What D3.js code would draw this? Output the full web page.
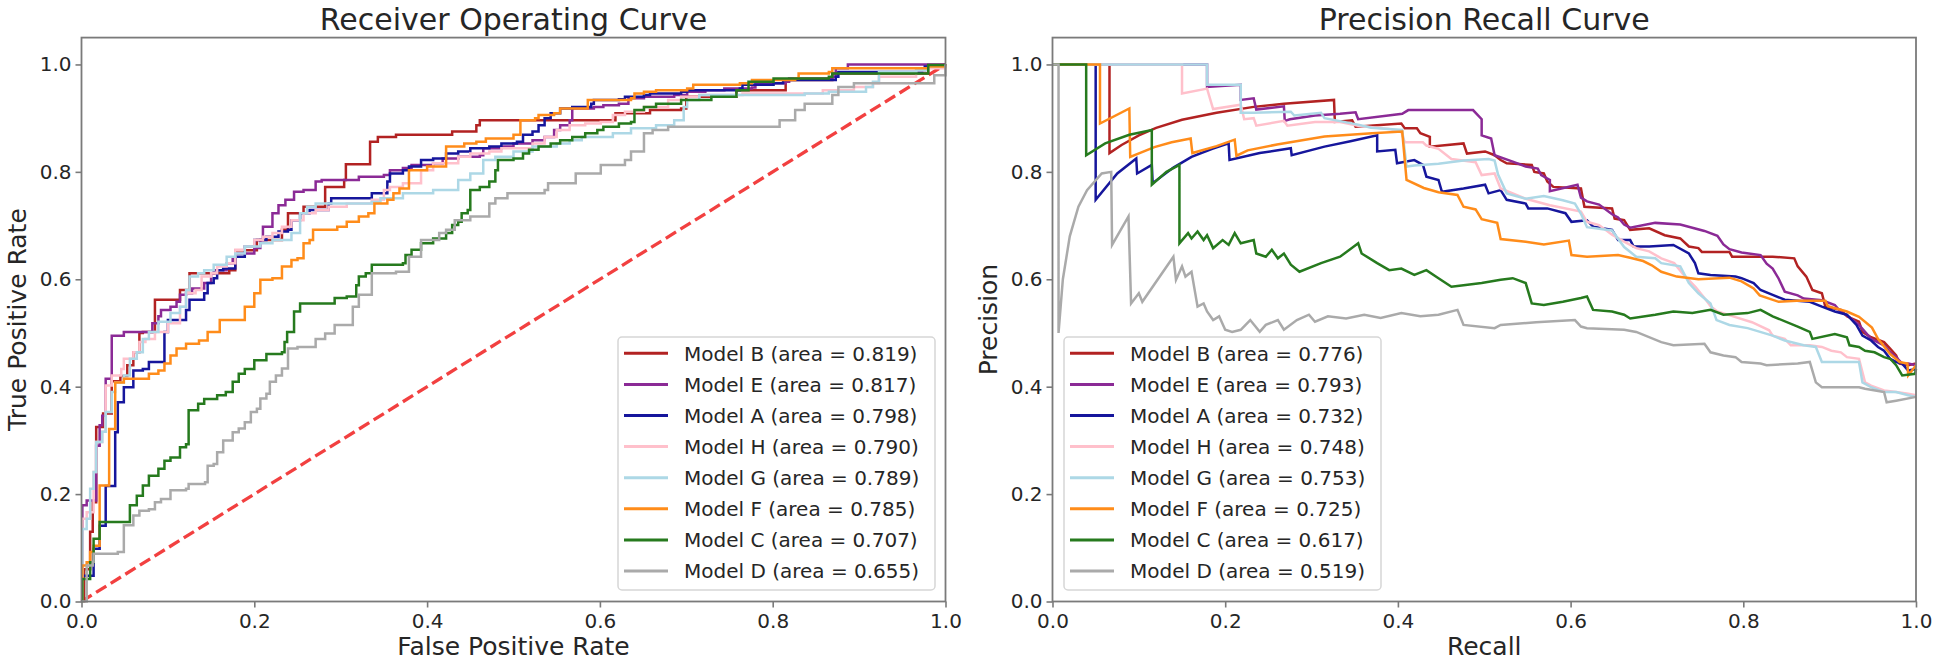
<!DOCTYPE html>
<html>
<head>
<meta charset="utf-8">
<script src="https://cdn.jsdelivr.net/npm/d3@7"></script>
<style>
  body { margin: 0; background: #fff; }
  text { font-family: "DejaVu Sans", sans-serif; fill: #262626; }
</style>
</head>
<body>
<svg id="chart" width="1938" height="664"></svg>
<script>
// legend order = draw order
const models = ["Model B", "Model E", "Model A", "Model H", "Model G", "Model F", "Model C", "Model D"];
const colors = ["#b22222", "#8b2a96", "#16169c", "#ffc0cb", "#add8e6", "#ff8c1a", "#267a1e", "#aaaaaa"];
const rocAuc = [0.819, 0.817, 0.798, 0.790, 0.789, 0.785, 0.707, 0.655];
const prAuc = [0.776, 0.793, 0.732, 0.748, 0.753, 0.725, 0.617, 0.519];
const ticks = [0, 0.2, 0.4, 0.6, 0.8, 1.0];

// ROC points [fpr, tpr]
const rocB = [[0,0],[0.003,0.06],[0.01,0.06],[0.01,0.13],[0.013,0.185],[0.017,0.325],[0.025,0.35],[0.035,0.41],[0.045,0.42],[0.053,0.44],[0.06,0.464],[0.067,0.5],[0.071,0.502],[0.085,0.562],[0.114,0.58],[0.125,0.611],[0.171,0.617],[0.178,0.654],[0.203,0.673],[0.232,0.692],[0.239,0.723],[0.257,0.735],[0.282,0.741],[0.282,0.772],[0.304,0.785],[0.306,0.814],[0.334,0.814],[0.334,0.856],[0.343,0.865],[0.364,0.869],[0.429,0.875],[0.457,0.887],[0.461,0.896],[0.604,0.896],[0.618,0.909],[0.658,0.915],[0.694,0.918],[0.7,0.94],[0.758,0.952],[0.815,0.971],[0.869,0.983],[0.98,0.999],[1,1]];
const rocE = [[0,0],[0.001,0.179],[0.006,0.188],[0.017,0.29],[0.021,0.328],[0.024,0.346],[0.028,0.415],[0.035,0.483],[0.035,0.495],[0.049,0.502],[0.071,0.502],[0.082,0.518],[0.089,0.531],[0.092,0.543],[0.103,0.549],[0.11,0.558],[0.114,0.571],[0.121,0.574],[0.128,0.583],[0.142,0.593],[0.15,0.611],[0.153,0.617],[0.168,0.63],[0.175,0.639],[0.178,0.648],[0.2,0.658],[0.207,0.673],[0.21,0.698],[0.221,0.723],[0.228,0.738],[0.236,0.748],[0.246,0.763],[0.257,0.766],[0.271,0.782],[0.278,0.785],[0.321,0.791],[0.35,0.794],[0.357,0.803],[0.372,0.807],[0.382,0.813],[0.407,0.816],[0.418,0.825],[0.436,0.828],[0.461,0.831],[0.465,0.844],[0.486,0.847],[0.5,0.853],[0.522,0.859],[0.536,0.865],[0.547,0.878],[0.554,0.887],[0.565,0.896],[0.568,0.918],[0.593,0.921],[0.604,0.924],[0.622,0.927],[0.633,0.937],[0.651,0.94],[0.686,0.943],[0.701,0.949],[0.722,0.952],[0.744,0.955],[0.776,0.957],[0.78,0.965],[0.815,0.968],[0.819,0.974],[0.869,0.977],[0.873,0.993],[0.887,1],[1,1]];
const rocA = [[0,0],[0.001,0.048],[0.014,0.048],[0.014,0.098],[0.021,0.116],[0.021,0.141],[0.028,0.203],[0.028,0.215],[0.039,0.315],[0.042,0.371],[0.049,0.374],[0.049,0.399],[0.06,0.399],[0.06,0.43],[0.071,0.433],[0.078,0.446],[0.096,0.446],[0.096,0.502],[0.1,0.524],[0.121,0.543],[0.125,0.562],[0.142,0.574],[0.146,0.593],[0.153,0.602],[0.157,0.617],[0.164,0.62],[0.178,0.642],[0.189,0.661],[0.2,0.673],[0.214,0.679],[0.228,0.689],[0.239,0.692],[0.243,0.71],[0.253,0.723],[0.264,0.729],[0.286,0.741],[0.289,0.751],[0.332,0.751],[0.336,0.76],[0.354,0.782],[0.357,0.797],[0.372,0.803],[0.379,0.81],[0.393,0.822],[0.407,0.825],[0.422,0.834],[0.436,0.838],[0.45,0.844],[0.472,0.847],[0.486,0.853],[0.504,0.856],[0.511,0.869],[0.522,0.875],[0.529,0.887],[0.536,0.9],[0.543,0.909],[0.554,0.918],[0.568,0.921],[0.59,0.927],[0.593,0.934],[0.622,0.935],[0.629,0.94],[0.651,0.943],[0.658,0.946],[0.694,0.949],[0.701,0.952],[0.762,0.955],[0.765,0.962],[0.801,0.965],[0.812,0.971],[0.873,0.977],[0.876,0.986],[0.973,0.989],[0.976,0.996],[1,1]];
const rocH = [[0,0],[0.001,0.154],[0.006,0.166],[0.014,0.241],[0.017,0.297],[0.024,0.316],[0.028,0.402],[0.035,0.421],[0.046,0.433],[0.049,0.452],[0.06,0.464],[0.067,0.483],[0.074,0.489],[0.085,0.502],[0.1,0.518],[0.114,0.549],[0.121,0.574],[0.132,0.58],[0.139,0.605],[0.15,0.611],[0.157,0.624],[0.168,0.63],[0.178,0.655],[0.189,0.661],[0.2,0.673],[0.21,0.679],[0.221,0.686],[0.232,0.698],[0.243,0.71],[0.257,0.723],[0.271,0.729],[0.286,0.735],[0.307,0.741],[0.336,0.748],[0.35,0.766],[0.357,0.772],[0.372,0.779],[0.393,0.803],[0.407,0.816],[0.436,0.828],[0.45,0.834],[0.472,0.838],[0.486,0.844],[0.508,0.844],[0.522,0.853],[0.536,0.865],[0.55,0.878],[0.565,0.887],[0.583,0.89],[0.601,0.893],[0.615,0.906],[0.629,0.912],[0.651,0.921],[0.679,0.934],[0.694,0.94],[0.715,0.943],[0.765,0.946],[0.837,0.946],[0.858,0.952],[0.894,0.958],[0.916,0.965],[0.923,0.977],[0.966,0.989],[0.98,0.993],[1,1]];
const rocG = [[0,0],[0.001,0.135],[0.006,0.154],[0.01,0.21],[0.014,0.241],[0.017,0.247],[0.017,0.297],[0.024,0.316],[0.028,0.353],[0.035,0.39],[0.039,0.408],[0.049,0.421],[0.056,0.452],[0.064,0.464],[0.071,0.489],[0.078,0.502],[0.089,0.521],[0.103,0.537],[0.114,0.549],[0.121,0.58],[0.125,0.605],[0.135,0.611],[0.142,0.617],[0.153,0.627],[0.168,0.642],[0.178,0.648],[0.189,0.661],[0.207,0.667],[0.221,0.673],[0.243,0.686],[0.253,0.723],[0.261,0.735],[0.271,0.741],[0.336,0.744],[0.346,0.751],[0.372,0.76],[0.407,0.766],[0.436,0.785],[0.45,0.797],[0.465,0.822],[0.479,0.828],[0.5,0.838],[0.522,0.847],[0.55,0.853],[0.565,0.859],[0.579,0.865],[0.615,0.872],[0.636,0.881],[0.665,0.887],[0.686,0.896],[0.697,0.921],[0.701,0.934],[0.715,0.943],[0.837,0.946],[0.865,0.949],[0.908,0.958],[0.916,0.968],[0.923,0.986],[0.966,0.989],[0.98,0.996],[1,1]];
const rocF = [[0,0],[0.001,0.067],[0.006,0.073],[0.01,0.092],[0.014,0.104],[0.021,0.129],[0.021,0.216],[0.028,0.216],[0.032,0.321],[0.039,0.321],[0.039,0.408],[0.049,0.415],[0.071,0.415],[0.078,0.424],[0.089,0.43],[0.096,0.443],[0.103,0.458],[0.11,0.471],[0.121,0.48],[0.136,0.486],[0.146,0.502],[0.16,0.524],[0.178,0.524],[0.189,0.549],[0.2,0.574],[0.207,0.599],[0.221,0.602],[0.232,0.624],[0.243,0.636],[0.25,0.639],[0.257,0.667],[0.264,0.673],[0.268,0.692],[0.296,0.698],[0.307,0.707],[0.321,0.717],[0.332,0.723],[0.339,0.741],[0.354,0.748],[0.361,0.76],[0.368,0.769],[0.379,0.779],[0.379,0.803],[0.4,0.81],[0.422,0.822],[0.422,0.847],[0.443,0.853],[0.457,0.856],[0.468,0.862],[0.5,0.869],[0.508,0.896],[0.525,0.9],[0.529,0.906],[0.547,0.909],[0.554,0.918],[0.586,0.921],[0.586,0.934],[0.636,0.937],[0.64,0.946],[0.651,0.949],[0.665,0.952],[0.701,0.955],[0.708,0.962],[0.762,0.965],[0.776,0.971],[0.826,0.974],[0.83,0.983],[0.865,0.986],[0.869,0.993],[0.98,0.996],[1,1]];
const rocC = [[0,0],[0.001,0.042],[0.006,0.042],[0.01,0.073],[0.014,0.117],[0.021,0.123],[0.021,0.148],[0.053,0.148],[0.056,0.179],[0.064,0.197],[0.071,0.216],[0.078,0.234],[0.089,0.247],[0.096,0.262],[0.103,0.268],[0.114,0.287],[0.121,0.293],[0.124,0.356],[0.135,0.368],[0.142,0.377],[0.157,0.384],[0.167,0.39],[0.175,0.409],[0.182,0.424],[0.189,0.433],[0.2,0.449],[0.214,0.461],[0.232,0.464],[0.235,0.483],[0.238,0.502],[0.246,0.54],[0.253,0.555],[0.282,0.555],[0.293,0.565],[0.307,0.568],[0.318,0.589],[0.321,0.605],[0.329,0.611],[0.336,0.627],[0.372,0.63],[0.375,0.645],[0.382,0.655],[0.393,0.667],[0.404,0.667],[0.407,0.676],[0.422,0.686],[0.429,0.701],[0.436,0.707],[0.44,0.723],[0.447,0.729],[0.45,0.766],[0.461,0.772],[0.472,0.782],[0.479,0.803],[0.482,0.822],[0.5,0.825],[0.511,0.834],[0.518,0.841],[0.529,0.847],[0.543,0.853],[0.554,0.859],[0.568,0.865],[0.583,0.872],[0.597,0.878],[0.604,0.884],[0.622,0.89],[0.636,0.893],[0.64,0.915],[0.651,0.921],[0.665,0.927],[0.694,0.934],[0.729,0.94],[0.758,0.952],[0.772,0.968],[0.801,0.974],[0.865,0.977],[0.869,0.983],[0.98,0.983],[0.98,0.999],[1,1]];
const rocD = [[0,0],[0.006,0.067],[0.013,0.074],[0.014,0.089],[0.042,0.092],[0.049,0.123],[0.049,0.142],[0.06,0.16],[0.067,0.169],[0.078,0.172],[0.085,0.185],[0.092,0.191],[0.103,0.207],[0.121,0.21],[0.124,0.219],[0.143,0.222],[0.146,0.253],[0.153,0.256],[0.157,0.278],[0.164,0.3],[0.175,0.315],[0.182,0.322],[0.189,0.334],[0.196,0.353],[0.203,0.359],[0.207,0.378],[0.214,0.387],[0.218,0.409],[0.225,0.421],[0.232,0.434],[0.239,0.471],[0.25,0.474],[0.268,0.474],[0.271,0.489],[0.282,0.499],[0.293,0.515],[0.314,0.549],[0.321,0.571],[0.336,0.611],[0.364,0.614],[0.379,0.642],[0.393,0.673],[0.414,0.686],[0.422,0.692],[0.432,0.71],[0.45,0.717],[0.472,0.741],[0.479,0.751],[0.493,0.76],[0.536,0.766],[0.54,0.779],[0.572,0.797],[0.597,0.797],[0.601,0.813],[0.629,0.822],[0.636,0.838],[0.651,0.872],[0.661,0.878],[0.679,0.884],[0.78,0.884],[0.808,0.896],[0.826,0.915],[0.837,0.927],[0.869,0.943],[0.876,0.958],[0.894,0.965],[0.987,0.965],[0.987,0.98],[1,1]];

// precision-recall points [recall, precision]
const prB = [[0,1],[0.066,1],[0.066,0.835],[0.08,0.85],[0.1,0.868],[0.12,0.882],[0.15,0.897],[0.19,0.91],[0.233,0.921],[0.268,0.927],[0.326,0.934],[0.327,0.893],[0.347,0.896],[0.351,0.884],[0.404,0.89],[0.408,0.881],[0.422,0.881],[0.426,0.872],[0.437,0.865],[0.437,0.847],[0.476,0.853],[0.48,0.834],[0.501,0.838],[0.512,0.831],[0.519,0.822],[0.526,0.816],[0.555,0.813],[0.558,0.8],[0.569,0.797],[0.573,0.782],[0.58,0.772],[0.612,0.769],[0.616,0.735],[0.648,0.732],[0.651,0.713],[0.662,0.71],[0.669,0.692],[0.691,0.695],[0.709,0.682],[0.727,0.676],[0.737,0.661],[0.748,0.658],[0.752,0.651],[0.784,0.651],[0.787,0.642],[0.834,0.642],[0.859,0.639],[0.863,0.624],[0.873,0.605],[0.88,0.58],[0.891,0.574],[0.895,0.549],[0.913,0.543],[0.92,0.531],[0.934,0.521],[0.938,0.502],[0.948,0.492],[0.963,0.483],[0.97,0.471],[0.977,0.458],[0.981,0.443],[0.991,0.44],[1,0.443]];
const prE = [[0,1],[0.179,1],[0.179,0.958],[0.218,0.962],[0.218,0.934],[0.233,0.937],[0.236,0.916],[0.268,0.922],[0.269,0.895],[0.275,0.898],[0.304,0.905],[0.333,0.908],[0.351,0.911],[0.354,0.898],[0.405,0.908],[0.412,0.915],[0.487,0.915],[0.497,0.898],[0.497,0.868],[0.508,0.862],[0.512,0.831],[0.533,0.819],[0.548,0.81],[0.562,0.806],[0.566,0.794],[0.576,0.785],[0.576,0.764],[0.608,0.776],[0.612,0.752],[0.619,0.745],[0.633,0.739],[0.648,0.721],[0.655,0.715],[0.662,0.702],[0.669,0.696],[0.698,0.705],[0.727,0.702],[0.741,0.696],[0.755,0.69],[0.77,0.681],[0.777,0.665],[0.784,0.656],[0.798,0.65],[0.82,0.645],[0.827,0.629],[0.834,0.62],[0.841,0.601],[0.848,0.577],[0.863,0.57],[0.87,0.564],[0.891,0.561],[0.906,0.552],[0.913,0.539],[0.92,0.533],[0.927,0.524],[0.934,0.515],[0.941,0.502],[0.948,0.489],[0.963,0.477],[0.97,0.464],[0.977,0.455],[0.984,0.443],[0.991,0.443],[1,0.44]];
const prA = [[0,1],[0.05,1],[0.05,0.748],[0.075,0.797],[0.097,0.825],[0.098,0.797],[0.115,0.813],[0.116,0.779],[0.14,0.808],[0.161,0.828],[0.185,0.843],[0.204,0.853],[0.205,0.822],[0.24,0.835],[0.276,0.844],[0.277,0.831],[0.315,0.847],[0.345,0.857],[0.376,0.868],[0.376,0.838],[0.397,0.841],[0.399,0.816],[0.419,0.822],[0.429,0.813],[0.433,0.791],[0.447,0.785],[0.451,0.763],[0.476,0.769],[0.501,0.776],[0.505,0.76],[0.519,0.766],[0.526,0.748],[0.548,0.741],[0.551,0.732],[0.573,0.732],[0.594,0.723],[0.601,0.707],[0.619,0.71],[0.626,0.698],[0.648,0.692],[0.655,0.673],[0.669,0.673],[0.673,0.661],[0.691,0.661],[0.719,0.664],[0.737,0.648],[0.744,0.63],[0.748,0.611],[0.762,0.608],[0.791,0.605],[0.798,0.602],[0.812,0.593],[0.82,0.58],[0.834,0.571],[0.848,0.562],[0.877,0.558],[0.891,0.549],[0.906,0.54],[0.92,0.534],[0.931,0.515],[0.938,0.495],[0.948,0.486],[0.956,0.474],[0.963,0.467],[0.97,0.452],[0.977,0.446],[0.984,0.443],[0.991,0.43],[1,0.433]];
const prH = [[0,1],[0.15,1],[0.15,0.946],[0.179,0.955],[0.186,0.917],[0.218,0.925],[0.222,0.898],[0.233,0.9],[0.236,0.886],[0.268,0.895],[0.272,0.886],[0.304,0.893],[0.333,0.893],[0.354,0.886],[0.39,0.88],[0.404,0.874],[0.408,0.855],[0.429,0.855],[0.433,0.849],[0.447,0.843],[0.462,0.824],[0.49,0.818],[0.497,0.794],[0.512,0.797],[0.519,0.769],[0.548,0.75],[0.576,0.738],[0.612,0.726],[0.619,0.707],[0.633,0.701],[0.648,0.683],[0.662,0.67],[0.676,0.658],[0.691,0.652],[0.705,0.639],[0.72,0.63],[0.73,0.61],[0.745,0.585],[0.755,0.565],[0.762,0.55],[0.77,0.54],[0.79,0.53],[0.81,0.52],[0.83,0.505],[0.834,0.495],[0.848,0.489],[0.855,0.477],[0.877,0.477],[0.891,0.474],[0.902,0.467],[0.913,0.464],[0.92,0.455],[0.934,0.452],[0.941,0.408],[0.948,0.402],[0.963,0.393],[0.977,0.39],[0.991,0.387],[1,0.384]];
const prG = [[0,1],[0.179,1],[0.179,0.962],[0.218,0.962],[0.218,0.91],[0.233,0.91],[0.276,0.912],[0.28,0.905],[0.311,0.91],[0.315,0.9],[0.354,0.888],[0.369,0.882],[0.405,0.878],[0.41,0.81],[0.419,0.812],[0.447,0.815],[0.476,0.821],[0.505,0.824],[0.512,0.821],[0.516,0.795],[0.526,0.76],[0.548,0.75],[0.569,0.755],[0.591,0.747],[0.605,0.741],[0.612,0.722],[0.619,0.697],[0.648,0.691],[0.662,0.66],[0.676,0.642],[0.698,0.639],[0.705,0.63],[0.727,0.624],[0.737,0.593],[0.748,0.574],[0.762,0.555],[0.769,0.524],[0.784,0.515],[0.805,0.509],[0.834,0.495],[0.848,0.486],[0.87,0.477],[0.884,0.474],[0.891,0.446],[0.934,0.446],[0.938,0.408],[0.948,0.399],[0.963,0.39],[0.977,0.39],[0.991,0.384],[1,0.381]];
const prF = [[0,1],[0.055,1],[0.055,0.89],[0.089,0.918],[0.09,0.828],[0.118,0.846],[0.138,0.855],[0.16,0.862],[0.162,0.835],[0.19,0.848],[0.211,0.86],[0.213,0.83],[0.226,0.84],[0.26,0.851],[0.315,0.866],[0.37,0.872],[0.405,0.875],[0.41,0.785],[0.43,0.77],[0.447,0.762],[0.469,0.757],[0.476,0.735],[0.49,0.73],[0.497,0.712],[0.515,0.705],[0.519,0.675],[0.548,0.67],[0.569,0.665],[0.598,0.672],[0.601,0.645],[0.619,0.642],[0.655,0.645],[0.669,0.64],[0.684,0.634],[0.694,0.626],[0.705,0.614],[0.723,0.605],[0.748,0.6],[0.784,0.603],[0.798,0.596],[0.812,0.583],[0.819,0.57],[0.841,0.558],[0.862,0.56],[0.895,0.56],[0.898,0.55],[0.92,0.54],[0.934,0.53],[0.949,0.51],[0.956,0.489],[0.97,0.461],[0.981,0.446],[0.99,0.443],[0.991,0.421],[1,0.44]];
const prC = [[0,1],[0.039,1],[0.039,0.831],[0.061,0.853],[0.089,0.869],[0.115,0.878],[0.115,0.776],[0.132,0.8],[0.147,0.813],[0.147,0.667],[0.157,0.686],[0.161,0.676],[0.168,0.689],[0.175,0.673],[0.179,0.682],[0.186,0.658],[0.197,0.673],[0.204,0.664],[0.211,0.686],[0.218,0.667],[0.233,0.673],[0.236,0.648],[0.247,0.642],[0.254,0.655],[0.261,0.639],[0.268,0.648],[0.276,0.627],[0.286,0.614],[0.311,0.63],[0.333,0.642],[0.354,0.667],[0.358,0.648],[0.376,0.63],[0.39,0.617],[0.404,0.62],[0.419,0.608],[0.433,0.617],[0.447,0.602],[0.462,0.586],[0.476,0.589],[0.497,0.593],[0.519,0.599],[0.533,0.602],[0.548,0.593],[0.555,0.555],[0.569,0.552],[0.591,0.558],[0.612,0.565],[0.619,0.568],[0.626,0.543],[0.648,0.54],[0.662,0.534],[0.669,0.527],[0.698,0.534],[0.719,0.54],[0.741,0.537],[0.762,0.543],[0.777,0.534],[0.805,0.537],[0.82,0.543],[0.834,0.531],[0.863,0.512],[0.877,0.502],[0.88,0.489],[0.906,0.498],[0.92,0.492],[0.923,0.477],[0.934,0.474],[0.941,0.467],[0.952,0.464],[0.963,0.455],[0.97,0.452],[0.977,0.44],[0.984,0.421],[0.999,0.424],[1,0.433]];
const prD = [[0,1],[0.007,1],[0.007,0.5],[0.012,0.6],[0.02,0.68],[0.03,0.735],[0.04,0.766],[0.057,0.797],[0.068,0.8],[0.069,0.664],[0.088,0.717],[0.091,0.555],[0.1,0.574],[0.104,0.558],[0.14,0.642],[0.143,0.599],[0.15,0.624],[0.154,0.605],[0.161,0.614],[0.168,0.549],[0.175,0.555],[0.179,0.54],[0.186,0.524],[0.193,0.531],[0.2,0.506],[0.208,0.502],[0.218,0.506],[0.229,0.524],[0.24,0.502],[0.247,0.515],[0.261,0.524],[0.268,0.506],[0.283,0.524],[0.297,0.534],[0.304,0.521],[0.319,0.531],[0.34,0.527],[0.361,0.534],[0.38,0.528],[0.404,0.537],[0.426,0.531],[0.447,0.534],[0.469,0.543],[0.476,0.515],[0.512,0.509],[0.519,0.515],[0.56,0.52],[0.605,0.524],[0.612,0.512],[0.619,0.509],[0.662,0.506],[0.676,0.502],[0.705,0.483],[0.719,0.477],[0.755,0.48],[0.762,0.464],[0.777,0.458],[0.791,0.455],[0.798,0.446],[0.82,0.443],[0.827,0.44],[0.863,0.443],[0.877,0.446],[0.884,0.408],[0.891,0.399],[0.934,0.399],[0.941,0.396],[0.963,0.39],[0.966,0.371],[0.977,0.374],[1,0.381]];

const rocCurves = [rocB, rocE, rocA, rocH, rocG, rocF, rocC, rocD];
const prCurves = [prB, prE, prA, prH, prG, prF, prC, prD];

const svg = d3.select("#chart");
const plotTop = 37.6, plotBottom = 601.5;

function panel(opt) {
  const x = d3.scaleLinear().domain([0, 1]).range([opt.left, opt.right]);
  const y = d3.scaleLinear().domain([0, 1.05]).range([plotBottom, plotTop]);
  const g = svg.append("g");

  if (opt.diagonal) {
    g.append("path")
      .attr("d", d3.line()([[x(0), y(0)], [x(1), y(1)]]))
      .attr("stroke", "#f24040").attr("stroke-width", 3.3)
      .attr("stroke-dasharray", "12,5.2").attr("fill", "none");
  }

  const line = d3.line().x(d => x(d[0])).y(d => y(d[1])).curve(opt.curve);
  g.selectAll(".crv").data(opt.curves).join("path")
    .attr("class", "crv")
    .attr("d", line)
    .attr("fill", "none")
    .attr("stroke", (d, i) => colors[i])
    .attr("stroke-width", 2.5)
    .attr("stroke-linejoin", "miter");

  // frame
  g.append("rect")
    .attr("x", opt.left).attr("y", plotTop)
    .attr("width", opt.right - opt.left).attr("height", plotBottom - plotTop)
    .attr("fill", "none").attr("stroke", "#7a7a7a").attr("stroke-width", 1.8);

  const fmt = d3.format(".1f");
  const ax = g.append("g").attr("transform", `translate(0,${plotBottom})`)
    .call(d3.axisBottom(x).tickValues(ticks).tickFormat(fmt).tickSize(6).tickSizeOuter(0).tickPadding(6));
  const ay = g.append("g").attr("transform", `translate(${opt.left},0)`)
    .call(d3.axisLeft(y).tickValues(ticks).tickFormat(fmt).tickSize(6).tickSizeOuter(0).tickPadding(4));
  [ax, ay].forEach(a => {
    a.select(".domain").remove();
    a.selectAll(".tick line").attr("stroke", "#7a7a7a").attr("stroke-width", 1.6);
    a.selectAll(".tick text").attr("font-size", 20).attr("fill", "#262626")
      .style("font-family", "DejaVu Sans, sans-serif");
  });

  const cx = (opt.left + opt.right) / 2;
  g.append("text").attr("x", cx).attr("y", 30).attr("text-anchor", "middle")
    .attr("font-size", 30).text(opt.title);
  g.append("text").attr("x", cx).attr("y", 655).attr("text-anchor", "middle")
    .attr("font-size", 25).text(opt.xlabel);
  g.append("text").attr("transform", `translate(${opt.left - 55.5},${(plotTop + plotBottom) / 2}) rotate(-90)`)
    .attr("text-anchor", "middle").attr("font-size", 25).text(opt.ylabel);

  // legend
  const lg = g.append("g").attr("transform", `translate(${opt.legendX},337)`);
  lg.append("rect").attr("width", 317).attr("height", 253).attr("rx", 4)
    .attr("fill", "#fff").attr("fill-opacity", 0.8)
    .attr("stroke", "#d6d6d6").attr("stroke-width", 1.5);
  const rows = lg.selectAll(".row").data(models).join("g")
    .attr("class", "row")
    .attr("transform", (d, i) => `translate(0,${16.3 + i * 31.1})`);
  rows.append("line").attr("x1", 6).attr("x2", 50)
    .attr("stroke", (d, i) => colors[i]).attr("stroke-width", 3);
  rows.append("text").attr("x", 66).attr("y", 7.3).attr("font-size", 20)
    .text((d, i) => `${d} (area = ${opt.auc[i].toFixed(3)})`);
}

panel({
  left: 81.5, right: 945.5, title: "Receiver Operating Curve",
  xlabel: "False Positive Rate", ylabel: "True Positive Rate",
  curves: rocCurves, auc: rocAuc, curve: d3.curveStepAfter,
  diagonal: true, legendX: 618
});
panel({
  left: 1052.5, right: 1916, title: "Precision Recall Curve",
  xlabel: "Recall", ylabel: "Precision",
  curves: prCurves, auc: prAuc, curve: d3.curveLinear,
  diagonal: false, legendX: 1064
});
</script>
</body>
</html>
